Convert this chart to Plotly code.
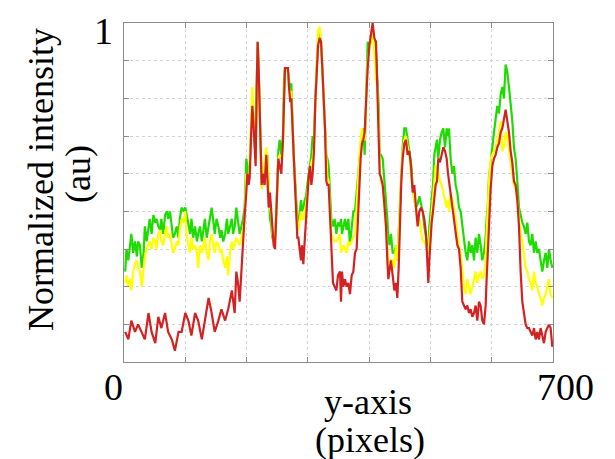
import plotly.graph_objects as go

# ---------------- data (position along line in pixels, normalized intensity) ----------------
x_gy = [2, 4, 7, 10, 12, 15, 18, 21, 23, 26, 29, 32, 34, 37, 40, 42, 45, 48, 51, 53,
        56, 59, 61, 64, 67, 70, 72, 75, 78, 80, 83, 86, 89, 91, 94, 97, 100, 102, 105, 108,
        110, 113, 116, 119, 121, 124, 127, 129, 132, 135, 138, 140, 143, 146, 148, 151, 154, 157, 159, 162,
        165, 168, 170, 173, 176,
        177.9, 180.6, 183.3, 186.0, 188.7, 191.5, 194.2, 196.9, 199.6,
        201.2, 203.4, 205.1, 207.8, 209.4, 211.0, 213.2, 214.8, 216.5, 218.1,
        219.7, 221.4, 223.0, 224.6, 226.8, 229.5, 232.2, 233.9, 236.1, 238.2,
        240.4, 242.0, 244.2, 246.4, 248.6, 250.2, 251.8, 254.0, 256.7, 259.4,
        261.1, 262.7, 264.9, 267.6, 269.2, 271.4, 273.0, 274.7, 276.8, 279.0,
        281.2, 282.8, 284.5, 286.6, 288.8, 290.4, 292.6, 294.8, 297.0, 299.1,
        301.3, 303.5, 305.7, 307.8, 310.0, 312.2, 314.4, 316.6, 319.3, 321.5,
        323.6, 325.8, 328.0, 330.1, 331.8, 333.9, 336.1, 338.3, 341.0, 343.7,
        346.5, 349.2, 352.5,
        354.1, 355.7, 357.9, 360.6, 363.3, 366.0, 368.7, 371.5, 374.2, 376.9,
        379.6, 381.8, 384.0, 386.1, 388.3, 390.5, 392.7, 394.9, 397.6, 400.3,
        403.0, 405.7, 408.5, 411.2, 413.3, 415.5, 417.2, 419.3, 422.1, 424.8,
        427.5, 429.7, 431.3, 432.9, 435.6, 438.4, 441.1, 443.8, 446.0, 448.2,
        450.3, 452.5, 454.7, 457.4, 460.1, 462.8, 465.6, 468.3, 471.0, 473.7,
        476.4, 479.2, 481.9, 484.6, 487.3, 490.0, 492.8, 494.9, 496.6, 498.2,
        499.8, 502.0, 504.2, 506.3, 508.5, 510.7, 512.9, 515.6, 518.3, 521.0,
        523.8, 526.5, 528.7,
        530.3, 533.0, 535.7, 538.4, 541.1, 543.9, 546.6, 549.3, 552.0, 554.7,
        557.5, 560.2, 562.9, 565.6, 568.3, 571.1, 573.8, 576.5, 579.2, 581.9,
        584.6, 587.4, 590.1, 591.7, 593.4,
        595.5, 598.3, 601.0, 603.7, 606.4, 609.1, 611.8, 614.6, 617.3, 620.0,
        622.7, 625.4, 628.2, 630.9, 633.6, 636.3, 639.0, 641.8, 644.5, 647.2,
        649.9, 652.6, 655.4, 658.1, 660.8, 663.5, 666.2, 669.0, 671.7, 674.4,
        677.1, 679.8, 682.6, 685.3, 688.0, 690.7, 693.4, 696.1, 698.9]

green = [0.34, 0.40, 0.37, 0.41, 0.44, 0.39, 0.42, 0.38, 0.42, 0.41,
         0.35, 0.39, 0.46, 0.42, 0.45, 0.48, 0.44, 0.49, 0.47, 0.48,
         0.46, 0.45, 0.48, 0.44, 0.49, 0.50, 0.48, 0.50, 0.46, 0.43,
         0.44, 0.46, 0.43, 0.48, 0.51, 0.50, 0.51, 0.49, 0.46, 0.44,
         0.48, 0.43, 0.46, 0.42, 0.44, 0.46, 0.42, 0.44, 0.48, 0.43,
         0.46, 0.49, 0.51, 0.47, 0.44, 0.48, 0.46, 0.43, 0.45, 0.42,
         0.44, 0.48, 0.44, 0.46, 0.48,
         0.44, 0.46, 0.51, 0.48, 0.44, 0.46, 0.48, 0.51, 0.64,
         0.62, 0.58, 0.62, 0.76, 0.80, 0.75, 0.67, 0.64, 0.83, 0.95,
         0.88, 0.76, 0.65, 0.58, 0.57, 0.60, 0.64, 0.65, 0.57, 0.48,
         0.46, 0.43, 0.42, 0.43, 0.50, 0.58, 0.66, 0.69, 0.65, 0.70,
         0.85, 0.88, 0.88, 0.87, 0.84, 0.82, 0.84, 0.74, 0.65, 0.59,
         0.51, 0.48, 0.46, 0.50, 0.53, 0.50, 0.51, 0.53, 0.54, 0.57,
         0.60, 0.62, 0.65, 0.70, 0.69, 0.80, 0.90, 0.95, 0.98, 0.95,
         0.88, 0.78, 0.72, 0.65, 0.64, 0.62, 0.54, 0.48, 0.46, 0.48,
         0.44, 0.47, 0.46,
         0.48, 0.44, 0.46, 0.48, 0.45, 0.48, 0.41, 0.46, 0.50, 0.50,
         0.55, 0.57, 0.61, 0.65, 0.71, 0.72, 0.65, 0.79, 0.95, 0.94,
         0.95, 0.97, 0.95, 0.92, 0.86, 0.78, 0.65, 0.65, 0.64, 0.59,
         0.52, 0.48, 0.43, 0.41, 0.44, 0.39, 0.39, 0.41, 0.37, 0.45,
         0.55, 0.63, 0.67, 0.72, 0.72, 0.69, 0.66, 0.63, 0.57, 0.53,
         0.51, 0.52, 0.54, 0.52, 0.50, 0.46, 0.43, 0.39, 0.39, 0.46,
         0.49, 0.52, 0.57, 0.65, 0.67, 0.69, 0.64, 0.69, 0.71, 0.72,
         0.67, 0.72, 0.70,
         0.72, 0.64, 0.60, 0.62, 0.57, 0.55, 0.51, 0.50, 0.46, 0.42,
         0.39, 0.37, 0.42, 0.39, 0.41, 0.37, 0.43, 0.39, 0.44, 0.41,
         0.37, 0.39, 0.43, 0.48, 0.51,
         0.59, 0.64, 0.67, 0.71, 0.74, 0.78, 0.76, 0.81, 0.83, 0.80,
         0.89, 0.87, 0.83, 0.79, 0.74, 0.67, 0.64, 0.58, 0.51, 0.49,
         0.47, 0.46, 0.44, 0.47, 0.42, 0.41, 0.44, 0.39, 0.42, 0.39,
         0.40, 0.37, 0.34, 0.37, 0.39, 0.35, 0.40, 0.37, 0.35]

yellow = [0.31, 0.33, 0.30, 0.32, 0.29, 0.34, 0.36, 0.37, 0.35, 0.34,
          0.30, 0.34, 0.38, 0.40, 0.41, 0.42, 0.40, 0.43, 0.42, 0.40,
          0.44, 0.45, 0.42, 0.41, 0.44, 0.46, 0.43, 0.44, 0.41, 0.39,
          0.40, 0.42, 0.41, 0.45, 0.48, 0.47, 0.50, 0.44, 0.41, 0.39,
          0.43, 0.40, 0.41, 0.39, 0.35, 0.41, 0.39, 0.40, 0.43, 0.39,
          0.37, 0.42, 0.44, 0.41, 0.39, 0.42, 0.41, 0.39, 0.40, 0.37,
          0.35, 0.38, 0.33, 0.39, 0.42,
          0.40, 0.41, 0.43, 0.42, 0.41, 0.43, 0.45, 0.48, 0.60,
          0.59, 0.58, 0.62, 0.79, 0.83, 0.78, 0.67, 0.63, 0.83, 0.95,
          0.88, 0.76, 0.67, 0.56, 0.58, 0.64, 0.67, 0.64, 0.57, 0.51,
          0.49, 0.44, 0.42, 0.42, 0.49, 0.58, 0.64, 0.65, 0.64, 0.67,
          0.83, 0.88, 0.88, 0.87, 0.83, 0.80, 0.82, 0.73, 0.64, 0.57,
          0.49, 0.46, 0.45, 0.47, 0.50, 0.48, 0.48, 0.50, 0.51, 0.55,
          0.57, 0.60, 0.63, 0.64, 0.67, 0.80, 0.89, 0.98, 0.99, 0.95,
          0.88, 0.78, 0.72, 0.63, 0.59, 0.58, 0.51, 0.44, 0.43, 0.42,
          0.42, 0.43, 0.44,
          0.39, 0.40, 0.41, 0.40, 0.39, 0.42, 0.41, 0.42, 0.43, 0.44,
          0.51, 0.60, 0.64, 0.69, 0.72, 0.69, 0.69, 0.79, 0.90, 0.93,
          0.96, 0.98, 0.92, 0.85, 0.83, 0.74, 0.62, 0.58, 0.57, 0.51,
          0.45, 0.41, 0.37, 0.34, 0.37, 0.37, 0.35, 0.41, 0.37, 0.44,
          0.51, 0.61, 0.66, 0.69, 0.70, 0.67, 0.65, 0.60, 0.56, 0.53,
          0.51, 0.47, 0.48, 0.45, 0.42, 0.42, 0.41, 0.40, 0.39, 0.42,
          0.46, 0.51, 0.55, 0.59, 0.62, 0.62, 0.60, 0.58, 0.57, 0.55,
          0.53, 0.51, 0.53,
          0.50, 0.55, 0.53, 0.51, 0.48, 0.44, 0.41, 0.39, 0.34, 0.30,
          0.28, 0.32, 0.30, 0.28, 0.30, 0.32, 0.34, 0.31, 0.33, 0.34,
          0.32, 0.33, 0.37, 0.44, 0.51,
          0.58, 0.64, 0.65, 0.66, 0.67, 0.69, 0.71, 0.74, 0.66, 0.67,
          0.71, 0.70, 0.67, 0.63, 0.60, 0.57, 0.56, 0.53, 0.48, 0.44,
          0.42, 0.39, 0.35, 0.34, 0.32, 0.31, 0.29, 0.34, 0.31, 0.30,
          0.28, 0.27, 0.25, 0.27, 0.28, 0.30, 0.32, 0.28, 0.27]

x_red = [2, 7, 12, 18, 23, 29, 34, 40, 45, 51, 56, 61, 67, 72, 78, 83, 89, 94, 100, 105,
         110, 116, 121, 127, 132, 138, 143, 148, 154, 159, 165, 170, 176] + x_gy[65:]

red = [0.18, 0.16, 0.21, 0.18, 0.20, 0.18, 0.16, 0.23, 0.18, 0.15,
       0.22, 0.19, 0.23, 0.18, 0.16, 0.13, 0.18, 0.18, 0.23, 0.21,
       0.17, 0.23, 0.21, 0.16, 0.21, 0.27, 0.23, 0.18, 0.21, 0.24,
       0.21, 0.24, 0.29,
       0.26, 0.23, 0.34, 0.31, 0.26, 0.34, 0.44, 0.49, 0.55,
       0.60, 0.57, 0.59, 0.72, 0.78, 0.74, 0.67, 0.62, 0.83, 0.95,
       0.88, 0.76, 0.66, 0.57, 0.60, 0.57, 0.65, 0.60, 0.51, 0.55,
       0.49, 0.44, 0.41, 0.40, 0.49, 0.57, 0.64, 0.62, 0.60, 0.69,
       0.81, 0.88, 0.88, 0.88, 0.83, 0.79, 0.80, 0.72, 0.64, 0.57,
       0.49, 0.43, 0.43, 0.39, 0.37, 0.41, 0.36, 0.42, 0.48, 0.56,
       0.59, 0.62, 0.57, 0.60, 0.66, 0.79, 0.88, 0.94, 0.96, 0.95,
       0.88, 0.79, 0.72, 0.58, 0.57, 0.57, 0.48, 0.39, 0.31, 0.30,
       0.29, 0.33, 0.34,
       0.26, 0.34, 0.30, 0.32, 0.30, 0.31, 0.28, 0.33, 0.34, 0.39,
       0.40, 0.48, 0.57, 0.64, 0.68, 0.69, 0.71, 0.79, 0.88, 0.94,
       0.97, 1.00, 0.96, 0.95, 0.83, 0.72, 0.60, 0.59, 0.57, 0.52,
       0.46, 0.37, 0.32, 0.34, 0.37, 0.33, 0.29, 0.31, 0.27, 0.35,
       0.48, 0.58, 0.64, 0.68, 0.69, 0.65, 0.66, 0.62, 0.55, 0.57,
       0.51, 0.46, 0.50, 0.51, 0.50, 0.48, 0.44, 0.37, 0.31, 0.37,
       0.42, 0.47, 0.50, 0.54, 0.57, 0.58, 0.64, 0.63, 0.65, 0.67,
       0.66, 0.64, 0.60,
       0.58, 0.54, 0.51, 0.48, 0.44, 0.41, 0.40, 0.35, 0.26, 0.25,
       0.24, 0.25, 0.23, 0.24, 0.22, 0.23, 0.25, 0.21, 0.26, 0.25,
       0.21, 0.20, 0.25, 0.32, 0.39,
       0.48, 0.56, 0.62, 0.64, 0.65, 0.67, 0.68, 0.71, 0.72, 0.75,
       0.77, 0.74, 0.71, 0.66, 0.63, 0.58, 0.57, 0.53, 0.46, 0.34,
       0.26, 0.23, 0.20, 0.19, 0.19, 0.18, 0.17, 0.19, 0.16, 0.18,
       0.16, 0.19, 0.17, 0.15, 0.18, 0.19, 0.20, 0.19, 0.14]

x_tick_labels = ["0", "700"]
y_tick_label = "1"
x_title = ["y-axis", "(pixels)"]
y_title = ["Normalized intensity", "(au)"]

# ---------------- figure ----------------
FONT = "Liberation Serif, Times New Roman, serif"
W, H = 615, 459
L, R, T, B = 124, 62, 23, 97
pw, ph = W - L - R, H - T - B


def px(xp):
    return (xp - L) / pw


def py(yp):
    return (H - B - yp) / ph


fig = go.Figure()
fig.add_trace(go.Scatter(x=x_gy, y=green, mode="lines",
                         line=dict(color="#1fdc00", width=2.2), showlegend=False))
fig.add_trace(go.Scatter(x=x_gy, y=yellow, mode="lines",
                         line=dict(color="#ffff00", width=2.2), showlegend=False))
fig.add_trace(go.Scatter(x=x_red, y=red, mode="lines",
                         line=dict(color="#d42222", width=2.2), showlegend=False))

axis_common = dict(showgrid=True, gridcolor="#d2d2d2", griddash="dot", gridwidth=1,
                   showline=True, linecolor="#8c8c8c", linewidth=1, mirror="ticks",
                   ticks="inside", ticklen=5, tickcolor="#8c8c8c",
                   showticklabels=False, zeroline=False, fixedrange=True)

fig.update_xaxes(range=[0, 700], tickvals=[100, 200, 300, 400, 500, 600], **axis_common)
fig.update_yaxes(range=[0.1, 1.0], tickvals=[0.2, 0.3, 0.4, 0.5, 0.6, 0.7, 0.8, 0.9], **axis_common)

ann = []
f_tick = dict(family=FONT, size=38, color="black")
f_title = dict(family=FONT, size=36, color="black")
ann.append(dict(text=x_tick_labels[0], x=px(113), y=py(387), font=f_tick))
ann.append(dict(text=x_tick_labels[1], x=px(565), y=py(387), font=f_tick))
ann.append(dict(text=y_tick_label, x=px(103), y=py(31), font=f_tick))
ann.append(dict(text=x_title[0], x=px(368), y=py(402), font=f_title))
ann.append(dict(text=x_title[1], x=px(370), y=py(440), font=f_title))
ann.append(dict(text=y_title[0], x=px(41), y=py(180), font=f_title, textangle=-90))
ann.append(dict(text=y_title[1], x=px(78), y=py(174), font=f_title, textangle=-90))
for a in ann:
    a.update(xref="paper", yref="paper", showarrow=False, xanchor="center", yanchor="middle")

fig.update_layout(width=W, height=H, margin=dict(l=L, r=R, t=T, b=B),
                  paper_bgcolor="white", plot_bgcolor="white",
                  annotations=ann, showlegend=False)

fig.write_html("out.html")
